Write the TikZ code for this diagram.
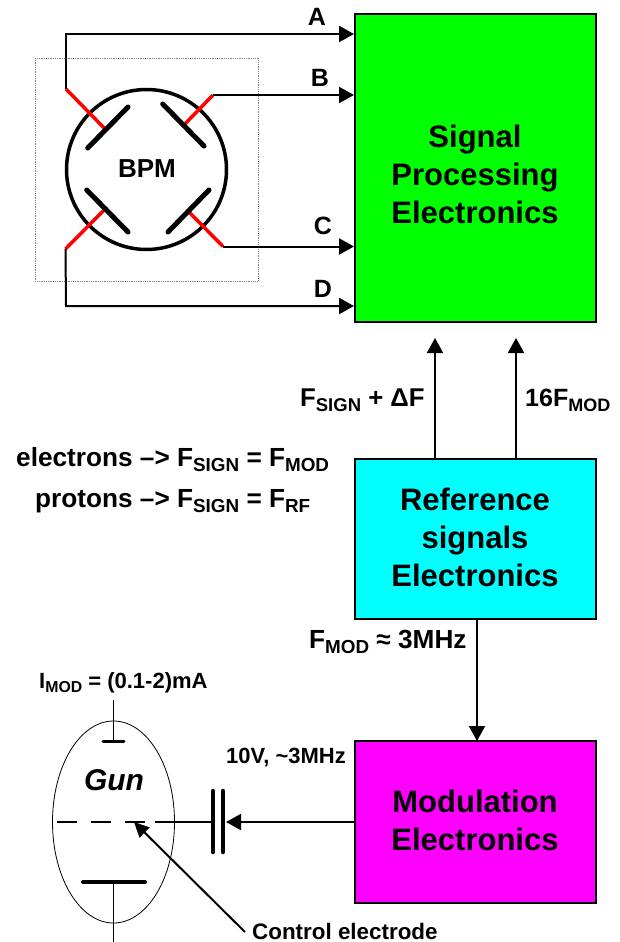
\documentclass[tikz,border=0pt]{standalone}
\usepackage{fontspec}
\setmainfont{Liberation Sans}
\usetikzlibrary{arrows.meta,shapes.geometric}
\definecolor{pcyan}{RGB}{0,255,255}
\definecolor{pmag}{RGB}{255,0,255}
\definecolor{pgreen}{RGB}{0,255,0}
\definecolor{pred}{RGB}{255,0,0}
\newcommand{\lowsub}[1]{\raisebox{-0.22em}{\fontsize{0.72em}{0.72em}\selectfont #1}}
\newcommand{\fs}[1]{\fontsize{#1}{#1}\selectfont\bfseries}
\tikzset{
  x=1pt,y=-1pt,
  block/.style={draw=black,line width=2.5pt,inner sep=0pt,outer sep=0pt,anchor=north west},
  blocktext/.style={inner sep=0pt,font=\fs{31},anchor=base},
  lbl/.style={inner sep=0pt,font=\fs{26.2},anchor=base west},
  letter/.style={inner sep=0pt,font=\fs{25},anchor=base},
  small/.style={inner sep=0pt,font=\fs{22},anchor=base west},
  wire/.style={draw=black,line width=2pt},
  arr/.style={wire,-{Triangle[length=15pt,width=16pt]}},
  plate/.style={line width=5pt,line cap=round,black},
  redline/.style={line width=3.5pt,pred},
  thin wire/.style={line width=0.8pt,black},
}
\begin{document}
\begin{tikzpicture}
\useasboundingbox (0,0) rectangle (620,942);
\node[block,fill=pgreen,minimum width=241pt,minimum height=308pt] (sp) at (355,14) {};
\node[blocktext] at (475,147) {Signal};
\node[blocktext] at (475,185) {Processing};
\node[blocktext] at (475,223) {Electronics};
\node[block,fill=pcyan,minimum width=241pt,minimum height=160pt] (ref) at (355,459) {};
\node[blocktext] at (475,510) {Reference};
\node[blocktext] at (475,548) {signals};
\node[blocktext] at (475,586) {Electronics};
\node[block,fill=pmag,minimum width=241pt,minimum height=162pt] (mod) at (355,741) {};
\node[blocktext] at (475,812) {Modulation};
\node[blocktext] at (475,850) {Electronics};
% BPM
\draw[gray,densely dotted,line width=0.8pt] (35,58) rectangle (258,281);
\node[draw=black,line width=3.5pt,circle,minimum size=160pt,inner sep=0pt,outer sep=0pt] (bpm) at (146.5,169.5) {};
\node[letter,font=\fs{26}] at (147,177) {BPM};
\coordinate (ra) at (66,89); \coordinate (rb) at (213,95); \coordinate (rc) at (223,246.5); \coordinate (rd) at (65.5,249);
\draw[redline] (ra) -- (107,131);
\draw[redline] (rb) -- (182,127);
\draw[redline] (rd) -- (107,207);
\draw[redline] (rc) -- (190,213);
\draw[plate] (87.7,148) -- (128,107);
\draw[plate] (162.7,104) -- (204,146);
\draw[plate] (86.7,190) -- (128,232);
\draw[plate] (168,232) -- (209,190);
\coordinate (ta) at (354,34); \coordinate (tb) at (354,95); \coordinate (tc) at (354,246.5); \coordinate (td) at (354,306);
\draw[arr] (ra) -- (66,34) -- (ta);
\draw[arr] (rb) -- (tb);
\draw[arr] (rc) -- (tc);
\draw[arr] (rd) -- (66,306) -- (td);
\node[letter] at (317,26) {A};
\node[letter] at (320,86) {B};
\node[letter] at (323,234) {C};
\node[letter] at (323,297) {D};
% reference links
\coordinate (r1) at (435,459); \coordinate (s1) at (435,338);
\coordinate (r2) at (516,459); \coordinate (s2) at (516,338);
\draw[arr] (r1) -- (s1);
\draw[arr] (r2) -- (s2);
\node[lbl,font=\fs{25.7}] at (300,406) {F\lowsub{SIGN} + ΔF};
\node[lbl,font=\fs{25}] at (525,406) {16F\lowsub{MOD}};
\node[lbl] at (16,466) {electrons –> F\lowsub{SIGN} = F\lowsub{MOD}};
\node[lbl] at (35,507) {protons –> F\lowsub{SIGN} = F\lowsub{RF}};
\coordinate (r3) at (477,619); \coordinate (m3) at (477,741);
\draw[arr] (r3) -- (m3);
\node[lbl] at (309,648) {F\lowsub{MOD} ≈ 3MHz};
% gun
\node[draw=black,line width=0.8pt,ellipse,minimum width=122pt,minimum height=202pt,inner sep=0pt] (gun) at (113.5,822) {};
\node[inner sep=0pt,font=\fs{30}\itshape,anchor=base] at (114,790) {Gun};
\node[small] at (39,688) {I\lowsub{MOD} = (0.1-2)mA};
\draw[thin wire] (113.5,700) -- (113.5,741);
\draw[line width=3pt,line cap=round] (103,741) -- (124,741);
\draw[line width=4pt,line cap=round] (83,882) -- (145,882);
\draw[thin wire] (113.5,882) -- (113.5,942);
\draw[line width=1.8pt,dash pattern=on 20pt off 14pt] (57,822) -- (155,822);
\coordinate (cp1) at (213,822);
\coordinate (cp2) at (223,822);
\draw[line width=1.8pt] (155,822) -- (cp1);
\draw[line width=4.5pt,line cap=round] (213,791) -- (213,852);
\draw[line width=4.5pt,line cap=round] (223,791) -- (223,852);
\draw[arr] (mod.west |- cp2) -- (226,822);
\node[small] at (226,763) {10V, \textasciitilde3MHz};
\coordinate (ct) at (134,822);
\draw[wire,-{Triangle[length=15pt,width=14pt]}] (245,932) -- (ct);
\node[small,font=\fs{22.4}] (ctl) at (252,939) {Control electrode};
\end{tikzpicture}
\end{document}
